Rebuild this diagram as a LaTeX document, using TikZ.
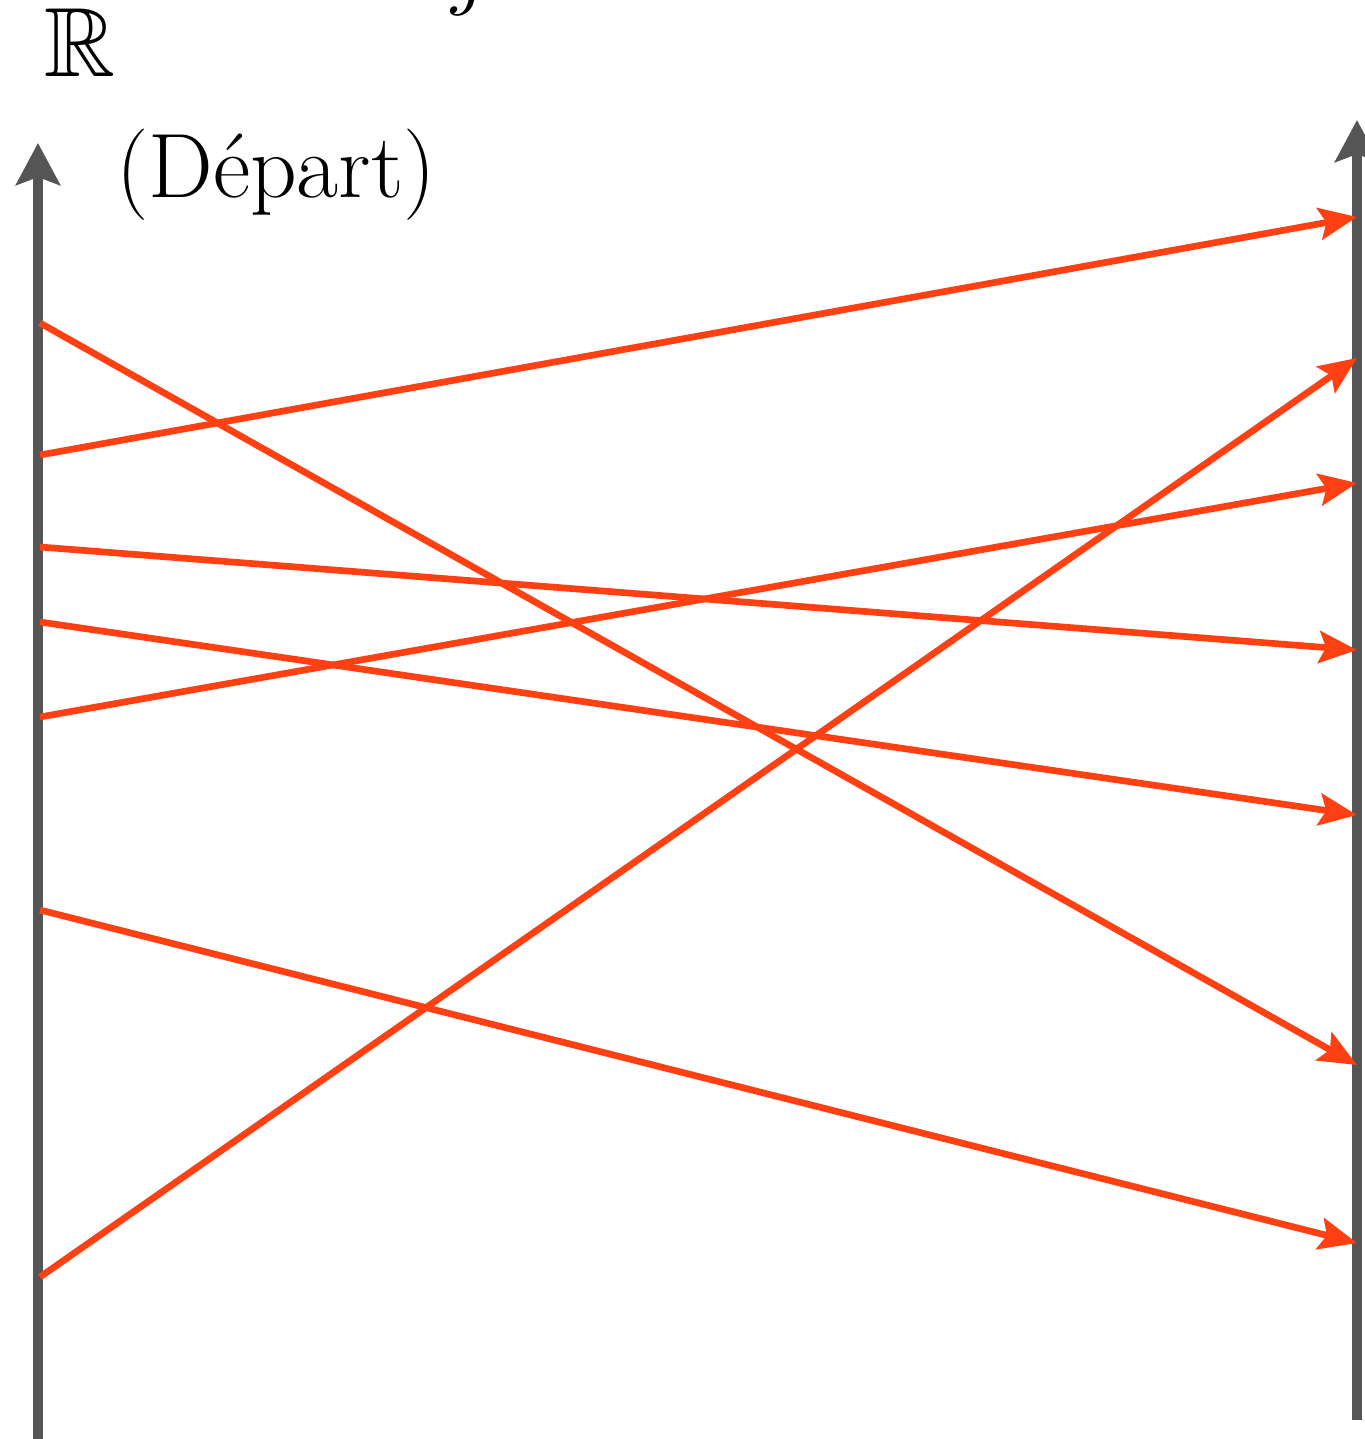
\documentclass[tikz,border=0pt]{standalone}
\usepackage{amsmath, amssymb}
\usepackage{tikz}
\usetikzlibrary{arrows.meta}
\definecolor{axisgray}{RGB}{85,85,85}
\definecolor{maporange}{RGB}{255,64,18}
\tikzset{
  axisline/.style={draw=axisgray, line width=2.6pt,
                   -{Stealth[length=0.42cm, width=0.44cm, inset=0.08cm]}},
  maparr/.style  ={draw=maporange, line width=1.9pt,
                   -{Stealth[length=0.38cm, width=0.32cm, inset=0.07cm]}},
  lbl/.style     ={inner sep=0pt, font=\fontsize{26}{30}\selectfont},
}

\begin{document}
\begin{tikzpicture}[x=1cm,y=1cm]
  \useasboundingbox (0,0) rectangle (13.64,14.39);
  % axes
  \coordinate (lbot) at (0.38,0);
  \coordinate (ltop) at (0.38,12.96);
  \coordinate (rbot) at (13.57,0.19);
  \coordinate (rtop) at (13.57,13.19);
  \draw[axisline] (lbot) -- (ltop);
  \draw[axisline] (rbot) -- (rtop);
  % labels
  \node[lbl, anchor=base] (jpart) at (4.72,14.40) {$j$};
  \node[lbl, anchor=base, font=\fontsize{28}{32}\selectfont] (reals) at (0.80,13.62) {$\mathbb{R}$};
  \node[lbl] (depart) at (2.76,12.64) {(Départ)};
  % end points on both axes
  \foreach \i/\yl/\yr in {1/9.84/12.22, 2/11.16/3.74, 3/8.92/7.89, 4/8.17/6.24,
                          5/7.22/9.56, 6/5.29/1.96, 7/1.62/10.81} {
    \coordinate (s\i) at (0.40,\yl);
    \coordinate (t\i) at (13.57,\yr);
  }
  \foreach \i in {1,...,7}
    \draw[maparr] (s\i) -- (t\i);
\end{tikzpicture}
\end{document}
